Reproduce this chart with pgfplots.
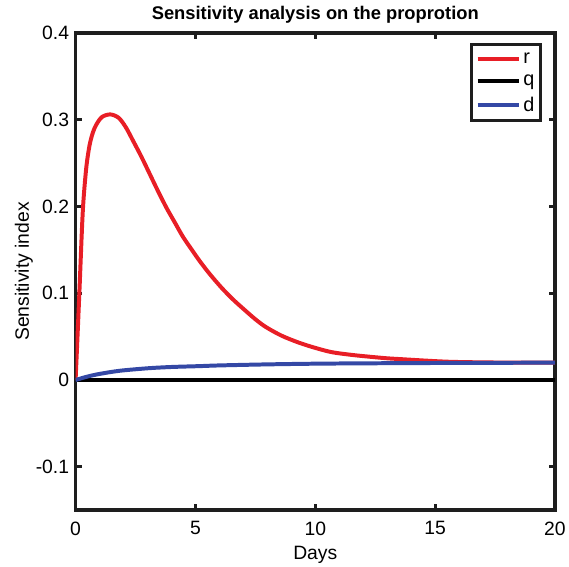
\documentclass[border=0pt]{standalone}
\usepackage{pgfplots}
\pgfplotsset{compat=1.18}
\usepackage{fontspec}
\setmainfont{Liberation Sans}
\definecolor{cred}{RGB}{232,30,38}
\definecolor{cblue}{RGB}{52,72,165}
\definecolor{caxis}{RGB}{30,30,30}
\begin{document}
\begin{tikzpicture}
\begin{axis}[
  scale only axis,
  width=482bp, height=480bp,
  xmin=0, xmax=20, ymin=-0.15, ymax=0.4,
  xtick={0,5,10,15,20},
  ytick={-0.1,0,0.1,0.2,0.3,0.4},
  yticklabels={-0.1,0,0.1,0.2,0.3,0.4},
  tick align=inside,
  major tick length=6bp,
  tick style={line width=3bp, caxis},
  axis line style={line width=3.5bp, caxis},
  /pgf/number format/assume math mode=true,
  ticklabel style={font=\fontsize{19.5}{22}\selectfont},
  xticklabel style={yshift=-8bp},
  yticklabel style={xshift=-3bp},
  label style={font=\fontsize{19.5}{22}\selectfont},
  xlabel={Days},
  ylabel={Sensitivity index},
  xlabel style={yshift=-4bp},
  ylabel style={yshift=-4bp},
  title={\bfseries Sensitivity analysis on the proprotion},
  title style={font=\fontsize{18.5}{21}\selectfont, yshift=0bp},
  legend style={at={(0.973,0.979)}, anchor=north east, draw=caxis, line width=3.5bp,
    font=\fontsize{20}{22}\selectfont, row sep=6bp, inner xsep=4bp, inner ysep=6bp},
  legend cell align=left,
  legend image code/.code={\draw[#1] (0bp,0bp) -- (42bp,0bp);},
]
\addplot[cred, line width=4bp, smooth, tension=0.5] coordinates {
(0,0) (0.08,0.05) (0.166,0.106) (0.3,0.194) (0.44,0.243) (0.58,0.270) (0.72,0.285) (0.86,0.294)
(1.1,0.303) (1.45,0.306) (1.8,0.302) (2.1,0.291) (2.41,0.275) (2.75,0.257) (3.1,0.237)
(3.45,0.217) (3.8,0.198) (4.15,0.181) (4.48,0.165) (4.85,0.150) (5.18,0.137) (5.6,0.122)
(6.1,0.106) (6.56,0.093) (7.0,0.082) (7.5,0.070) (7.94,0.061) (8.6,0.051) (9.32,0.043)
(10.0,0.037) (10.7,0.032) (11.5,0.029) (12.2,0.027) (13.0,0.025) (13.6,0.024) (14.5,0.0225)
(15.6,0.021) (17,0.0203) (18.5,0.020) (20,0.020)
};
\addlegendentry{r}
\addplot[black, line width=4bp] coordinates {(0,0) (20,0)};
\addlegendentry{q}
\addplot[cblue, line width=4bp, smooth] coordinates {
(0,0) (0.5,0.004) (1,0.007) (1.83,0.0106) (3,0.0135) (4,0.015) (5.18,0.016) (6,0.0168)
(8,0.018) (10,0.0188) (12,0.0192) (15,0.0196) (20,0.020)
};
\addlegendentry{d}
\end{axis}
\path (current axis.south west) ++(-76bp,-56bp) rectangle ++(569bp,569bp);
\end{tikzpicture}
\end{document}
